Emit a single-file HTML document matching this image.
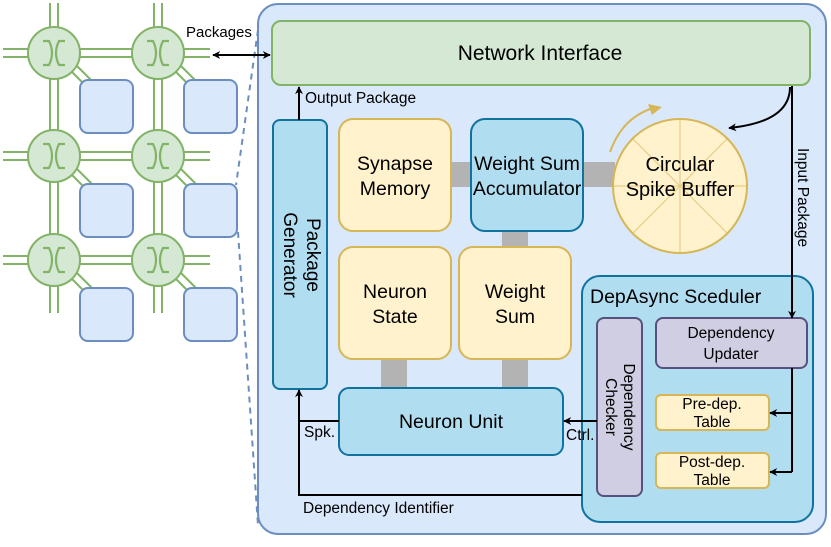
<!DOCTYPE html>
<html><head><meta charset="utf-8"><style>
html,body{margin:0;padding:0;background:#fff;}
svg{display:block;font-family:"Liberation Sans",Arial,sans-serif;}
</style></head><body>
<svg width="831" height="547" viewBox="0 0 831 547" xmlns="http://www.w3.org/2000/svg">
<defs>
<marker id="ah" viewBox="0 0 10 10" refX="9" refY="5" markerWidth="8" markerHeight="8" orient="auto-start-reverse" markerUnits="userSpaceOnUse"><path d="M0,0 L10,5 L0,10 L3,5 z" fill="#000"/></marker>
<g id="router">
<circle cx="0" cy="0" r="26" fill="#d5e8d4" stroke="#82b366" stroke-width="2"/>
<path d="M-11,-12 H-5 Q1,0 -5,12 H-11 M11,-12 H5 Q-1,0 5,12 H11" fill="none" stroke="#82b366" stroke-width="2.2"/>
</g>
</defs>
<!-- mesh -->
<g stroke="#82b366" stroke-width="2" fill="none">
<path d="M50,3 V313 M58,3 V313 M154,3 V313 M162,3 V313"/>
<path d="M3,49 H210 M3,57 H210 M3,152 H210 M3,160 H210 M3,256 H210 M3,264 H210"/>
<path d="M70,70 L88,88 M76,65 L94,83 M174,70 L192,88 M180,65 L198,83"/>
<path d="M70,173 L88,191 M76,168 L94,186 M174,173 L192,191 M180,168 L198,186"/>
<path d="M70,277 L88,295 M76,272 L94,290 M174,277 L192,295 M180,272 L198,290"/>
</g>
<g fill="#dae8fc" stroke="#6c8ebf" stroke-width="2">
<rect x="80" y="80" width="53" height="53" rx="8"/><rect x="184" y="80" width="53" height="53" rx="8"/>
<rect x="80" y="184" width="53" height="53" rx="8"/><rect x="184" y="184" width="53" height="53" rx="8"/>
<rect x="80" y="288" width="53" height="53" rx="8"/><rect x="184" y="288" width="53" height="53" rx="8"/>
</g>
<use href="#router" x="54" y="53"/><use href="#router" x="158" y="53"/>
<use href="#router" x="54" y="156"/><use href="#router" x="158" y="156"/>
<use href="#router" x="54" y="260"/><use href="#router" x="158" y="260"/>
<!-- dashed -->
<path d="M258,30 L236,185 M238,232 L258,525" stroke="#6c8ebf" stroke-width="2" stroke-dasharray="6,5" fill="none"/>
<!-- outer -->
<rect x="258" y="4" width="568" height="530" rx="20" fill="#dae8fc" stroke="#6c8ebf" stroke-width="2"/>
<text x="186" y="37" font-size="15">Packages</text>
<line x1="213" y1="55" x2="270" y2="55" stroke="#000" stroke-width="2" marker-start="url(#ah)" marker-end="url(#ah)"/>
<!-- NI -->
<rect x="272" y="21" width="538" height="64" rx="9" fill="#d5e8d4" stroke="#82b366" stroke-width="2"/>
<text x="540" y="60" font-size="21" text-anchor="middle">Network Interface</text>
<!-- gray connectors -->
<g fill="#b3b3b3">
<rect x="451" y="162" width="20" height="25"/><rect x="583" y="162" width="32" height="25"/>
<rect x="502" y="231" width="26" height="16"/><rect x="381" y="359" width="26" height="29"/>
<rect x="502" y="359" width="26" height="29"/><rect x="642" y="401" width="14" height="12"/>
<rect x="642" y="461" width="14" height="12"/>
</g>
<!-- Package generator -->
<rect x="273" y="120" width="54" height="269" rx="7" fill="#b1ddf0" stroke="#10739e" stroke-width="2"/>
<text transform="translate(300,255) rotate(90)" font-size="19" text-anchor="middle"><tspan x="0" y="-7">Package</tspan><tspan x="0" y="16">Generator</tspan></text>
<!-- yellow & blue boxes -->
<rect x="339" y="119" width="112" height="112" rx="14" fill="#fff2cc" stroke="#d6b656" stroke-width="2"/>
<text x="395" y="170" font-size="19.5" text-anchor="middle">Synapse</text><text x="395" y="195" font-size="19.5" text-anchor="middle">Memory</text>
<rect x="471" y="119" width="112" height="112" rx="14" fill="#b1ddf0" stroke="#10739e" stroke-width="2"/>
<text x="527" y="170" font-size="19.5" text-anchor="middle">Weight Sum</text><text x="527" y="195" font-size="19.5" text-anchor="middle">Accumulator</text>
<rect x="339" y="247" width="112" height="112" rx="14" fill="#fff2cc" stroke="#d6b656" stroke-width="2"/>
<text x="395" y="298" font-size="19.5" text-anchor="middle">Neuron</text><text x="395" y="323" font-size="19.5" text-anchor="middle">State</text>
<rect x="459" y="247" width="112" height="112" rx="14" fill="#fff2cc" stroke="#d6b656" stroke-width="2"/>
<text x="515" y="298" font-size="19.5" text-anchor="middle">Weight</text><text x="515" y="323" font-size="19.5" text-anchor="middle">Sum</text>
<rect x="339" y="388" width="224" height="67" rx="10" fill="#b1ddf0" stroke="#10739e" stroke-width="2"/>
<text x="451" y="428" font-size="19.5" text-anchor="middle">Neuron Unit</text>
<!-- circle -->
<g stroke="#d6b656">
<circle cx="680" cy="186" r="67" fill="#fff2cc" stroke-width="2"/>
<path d="M680,119 V253 M613,186 H747 M633,139 L727,233 M727,139 L633,233" stroke-width="1.2" opacity="0.6"/>
<path d="M610,152 Q622,118 653,108" fill="none" stroke-width="2"/>
</g>
<path d="M648,104 L662,107 L652,115 z" fill="#d6b656"/>
<text x="680" y="171" font-size="20" text-anchor="middle">Circular</text><text x="680" y="196" font-size="20" text-anchor="middle">Spike Buffer</text>
<!-- scheduler -->
<rect x="582" y="276" width="231" height="246" rx="18" fill="#b1ddf0" stroke="#10739e" stroke-width="2"/>
<text x="590" y="303" font-size="19.5">DepAsync Sceduler</text>
<rect x="597" y="318" width="45" height="178" rx="7" fill="#d0cee2" stroke="#56517e" stroke-width="2"/>
<text transform="translate(620,407) rotate(90)" font-size="15.5" text-anchor="middle"><tspan x="0" y="-4">Dependency</tspan><tspan x="0" y="14">Checker</tspan></text>
<rect x="656" y="318" width="151" height="50" rx="7" fill="#d0cee2" stroke="#56517e" stroke-width="2"/>
<text x="731" y="338" font-size="15.5" text-anchor="middle">Dependency</text><text x="731" y="359" font-size="15.5" text-anchor="middle">Updater</text>
<rect x="656" y="395" width="113" height="35" rx="5" fill="#fff2cc" stroke="#d6b656" stroke-width="2"/>
<text x="712" y="409" font-size="15.5" text-anchor="middle">Pre-dep.</text><text x="712" y="427" font-size="15.5" text-anchor="middle">Table</text>
<rect x="656" y="453" width="113" height="35" rx="5" fill="#fff2cc" stroke="#d6b656" stroke-width="2"/>
<text x="712" y="467" font-size="15.5" text-anchor="middle">Post-dep.</text><text x="712" y="485" font-size="15.5" text-anchor="middle">Table</text>
<!-- arrows -->
<g stroke="#000" stroke-width="2" fill="none">
<line x1="792" y1="86" x2="792" y2="318" marker-end="url(#ah)"/>
<path d="M790,87 Q790,122 729,128" marker-end="url(#ah)"/>
<path d="M792,368 V472"/>
<line x1="792" y1="413" x2="770" y2="413" marker-end="url(#ah)"/>
<line x1="792" y1="472" x2="770" y2="472" marker-end="url(#ah)"/>
<line x1="597" y1="421" x2="564" y2="421" marker-end="url(#ah)"/>
<path d="M582,495 H299 V390" marker-end="url(#ah)"/>
<line x1="339" y1="421" x2="299" y2="421"/>
<line x1="299" y1="120" x2="299" y2="87" marker-end="url(#ah)"/>
</g>
<text transform="translate(798,148) rotate(90)" font-size="15.5">Input Package</text>
<text x="305" y="103" font-size="15.5">Output Package</text>
<text x="566" y="440" font-size="15.5">Ctrl.</text>
<text x="304" y="437" font-size="15.5">Spk.</text>
<text x="303" y="513" font-size="15.5">Dependency Identifier</text>
</svg>
</body></html>
